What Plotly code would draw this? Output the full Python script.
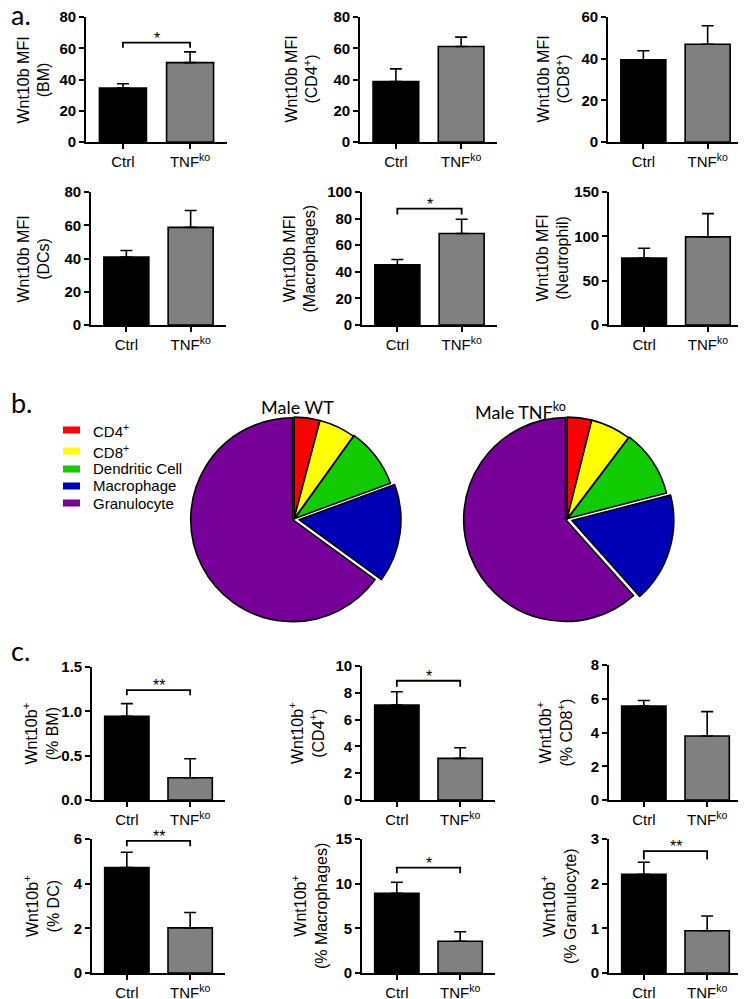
import plotly.graph_objects as go

W, H = 746, 999          # browser window
OFF = 8                  # default body margin of the html page
FW, FH = W - OFF, H - OFF  # figure size; page coordinates = figure coordinates + OFF

# ---------------- data ----------------
categories = ["Ctrl", "TNF<sup>ko</sup>"]

# panel a: Wnt10b MFI (mean, upper error)
mfi_bm = [34.6, 50.8];    mfi_bm_err = [2.7, 6.9]
mfi_cd4 = [38.7, 61.1];   mfi_cd4_err = [8.1, 6.0]
mfi_cd8 = [39.4, 46.9];   mfi_cd8_err = [4.4, 8.9]
mfi_dc = [40.9, 58.7];    mfi_dc_err = [3.9, 10.2]
mfi_mac = [45.3, 68.8];   mfi_mac_err = [4.0, 10.7]
mfi_neu = [75.4, 99.4];   mfi_neu_err = [11.2, 26.2]

# panel c: Wnt10b+ percentages
pct_bm = [0.945, 0.251];  pct_bm_err = [0.142, 0.214]
pct_cd4 = [7.09, 3.11];   pct_cd4_err = [0.99, 0.79]
pct_cd8 = [5.57, 3.79];   pct_cd8_err = [0.33, 1.45]
pct_dc = [4.72, 2.02];    pct_dc_err = [0.69, 0.69]
pct_mac = [8.92, 3.56];   pct_mac_err = [1.24, 1.05]
pct_gran = [2.21, 0.945]; pct_gran_err = [0.27, 0.33]

# significance brackets: (low end, top, label)
sig_mfi_bm = (60.3, 63.6, "*")
sig_mfi_mac = (83.0, 87.5, "*")
sig_pct_bm = (1.18, 1.24, "**")
sig_pct_cd4 = (8.46, 8.9, "*")
sig_pct_dc = (5.67, 5.92, "**")
sig_pct_mac = (11.17, 11.8, "*")
sig_pct_gran = (2.54, 2.73, "**")

# panel b: pie chart fractions (%)
pie_labels = ["CD4<sup>+</sup>", "CD8<sup>+</sup>", "Dendritic Cell", "Macrophage", "Granulocyte"]
pie_wt = [4.1, 5.8, 9.5, 15.6, 65.0]
pie_tnf = [3.9, 6.4, 10.7, 17.4, 61.6]

# ---------------- styling ----------------
ARIAL = "Arial"
CALIBRI = "Lato"
bar_colors = ["#000000", "#808080"]
pie_colors = ["#FF0000", "#FFFF00", "#11CC00", "#0000B4", "#770099"]


def fx(p):
    return (p - OFF) / FW


def fy(p):
    return 1 - (p - OFF) / FH


def fmt_tick(v, fmt):
    if fmt:
        return f"<b>{v:.1f}</b>"
    return f"<b>{int(round(v))}</b>"


panels = [
    # values, errors, sig, (x0, x1, ytop, ybot), ymax, dtick, fmt, title, title_x
    (mfi_bm, mfi_bm_err, sig_mfi_bm, (86, 227, 17, 142), 80, 20, None, "Wnt10b MFI<br>(BM)", 33),
    (mfi_cd4, mfi_cd4_err, None, (360, 497, 17, 142), 80, 20, None, "Wnt10b MFI<br>(CD4<sup>+</sup>)", 301),
    (mfi_cd8, mfi_cd8_err, None, (608, 743, 17, 142), 60, 20, None, "Wnt10b MFI<br>(CD8<sup>+</sup>)", 553),
    (mfi_dc, mfi_dc_err, None, (91, 226, 192, 325), 80, 20, None, "Wnt10b MFI<br>(DCs)", 33),
    (mfi_mac, mfi_mac_err, sig_mfi_mac, (362, 497, 192, 325), 100, 20, None, "Wnt10b MFI<br>(Macrophages)", 299),
    (mfi_neu, mfi_neu_err, None, (609, 743, 192, 325), 150, 50, None, "Wnt10b MFI<br>(Neutrophil)", 552),
    (pct_bm, pct_bm_err, sig_pct_bm, (92, 225, 667, 800), 1.5, 0.5, ".1f", "Wnt10b<sup>+</sup><br>(% BM)", 41),
    (pct_cd4, pct_cd4_err, sig_pct_cd4, (362, 495, 666, 800), 10, 2, None, "Wnt10b<sup>+</sup><br>(CD4<sup>+</sup>)", 306),
    (pct_cd8, pct_cd8_err, None, (609, 742, 665, 800), 8, 2, None, "Wnt10b<sup>+</sup><br>(% CD8<sup>+</sup>)", 555),
    (pct_dc, pct_dc_err, sig_pct_dc, (92, 225, 839, 973), 6, 2, None, "Wnt10b<sup>+</sup><br>(% DC)", 41),
    (pct_mac, pct_mac_err, sig_pct_mac, (362, 495, 839, 973), 15, 5, None, "Wnt10b<sup>+</sup><br>(% Macrophages)", 309),
    (pct_gran, pct_gran_err, sig_pct_gran, (609, 742, 839, 973), 3, 1, None, "Wnt10b<sup>+</sup><br>(% Granulocyte)", 558),
]

fig = go.Figure()
annotations = []
shapes = []
layout_axes = {}

for i, (vals, errs, sig, box, ymax, dtick, fmt, title, tx) in enumerate(panels, start=1):
    xa = "x" if i == 1 else f"x{i}"
    ya = "y" if i == 1 else f"y{i}"
    x0, x1, ytop, ybot = box
    fig.add_trace(go.Bar(
        x=categories, y=vals, xaxis=xa, yaxis=ya, width=0.7,
        marker=dict(color=bar_colors, line=dict(color="black", width=1.6)),
        error_y=dict(type="data", array=errs, arrayminus=[0, 0], symmetric=False,
                     color="black", thickness=1.6, width=6),
        showlegend=False, hoverinfo="skip",
    ))
    if sig is not None:
        lo, top, label = sig
        fig.add_trace(go.Scatter(
            x=[categories[0], categories[0], categories[1], categories[1]],
            y=[lo, top, top, lo], xaxis=xa, yaxis=ya, mode="lines",
            line=dict(color="black", width=1.8), cliponaxis=False,
            showlegend=False, hoverinfo="skip",
        ))
        annotations.append(dict(
            x=0.5, y=top, xref=xa, yref=ya, text=label, showarrow=False,
            yanchor="bottom", font=dict(family=ARIAL, size=16, color="black"), yshift=-6,
        ))
    key = "" if i == 1 else str(i)
    layout_axes["xaxis" + key] = dict(
        domain=[fx(x0), fx(x1)], anchor=ya, type="category",
        automargin=False, ticklabeloverflow="allow",
        range=[-0.55, 1.55], showline=True, linecolor="black", linewidth=1.6,
        ticks="outside", ticklen=5, tickwidth=1.6, tickcolor="black",
        showgrid=False, zeroline=False, fixedrange=True,
        tickfont=dict(family=ARIAL, size=15, color="black"),
    )
    n_ticks = int(round(ymax / dtick))
    tvals = [k * dtick for k in range(n_ticks + 1)]
    layout_axes["yaxis" + key] = dict(
        domain=[fy(ybot), fy(ytop)], anchor=xa, range=[0, ymax],
        automargin=False, ticklabeloverflow="allow",
        tickmode="array", tickvals=tvals, ticktext=[fmt_tick(v, fmt) for v in tvals],
        showline=True, linecolor="black", linewidth=1.6,
        ticks="outside", ticklen=5, tickwidth=1.6, tickcolor="black",
        showgrid=False, zeroline=False, fixedrange=True,
        tickfont=dict(family=ARIAL, size=15, color="black"),
    )
    annotations.append(dict(
        x=fx(tx), y=fy((ytop + ybot) / 2), xref="paper", yref="paper",
        text=title, textangle=-90, showarrow=False, xanchor="center", yanchor="middle",
        font=dict(family=ARIAL, size=16, color="black"),
    ))

# pies
pie_pull = [0, 0, 0.01, 0.05, 0.015]
for vals, cx in ((pie_wt, 294), (pie_tnf, 567)):
    half = 107
    cy = 519
    fig.add_trace(go.Pie(
        labels=pie_labels, values=vals, sort=False, direction="clockwise", rotation=0,
        marker=dict(colors=pie_colors, line=dict(color="black", width=1.6)),
        textinfo="none", pull=pie_pull, showlegend=False, hoverinfo="skip",
        automargin=False,
        domain=dict(x=[fx(cx - half), fx(cx + half)], y=[fy(cy + half), fy(cy - half)]),
    ))

annotations.append(dict(x=fx(297), y=fy(407), xref="paper", yref="paper", text="Male WT",
                        showarrow=False, font=dict(family=CALIBRI, size=18, color="black")))
annotations.append(dict(x=fx(568), y=fy(411), xref="paper", yref="paper", text="Male TNF<sup>ko</sup>",
                        showarrow=False, font=dict(family=CALIBRI, size=18, color="black")))

# legend (manual)
leg_y = [430, 451, 469, 486, 503]
for lab, col, yc in zip(pie_labels, pie_colors, leg_y):
    shapes.append(dict(type="rect", xref="paper", yref="paper",
                       x0=fx(63), x1=fx(80), y0=fy(yc + 3.5), y1=fy(yc - 3.5),
                       fillcolor=col, line=dict(width=0)))
    annotations.append(dict(x=fx(91), y=fy(yc), xref="paper", yref="paper", text=lab,
                            xanchor="left", yanchor="middle", showarrow=False,
                            font=dict(family=ARIAL, size=15, color="black")))

# panel labels
for lab, yc in (("a.", 15), ("b.", 402), ("c.", 650)):
    annotations.append(dict(x=fx(9), y=fy(yc), xref="paper", yref="paper", text=lab,
                            xanchor="left", yanchor="middle", showarrow=False,
                            font=dict(family=CALIBRI, size=27, color="black")))

fig.update_layout(
    width=FW, height=FH, margin=dict(l=0, r=0, t=0, b=0, autoexpand=False),
    paper_bgcolor="white", plot_bgcolor="white", showlegend=False,
    bargap=0.3, annotations=annotations, shapes=shapes,
    **layout_axes,
)

fig.write_html("out.html")
